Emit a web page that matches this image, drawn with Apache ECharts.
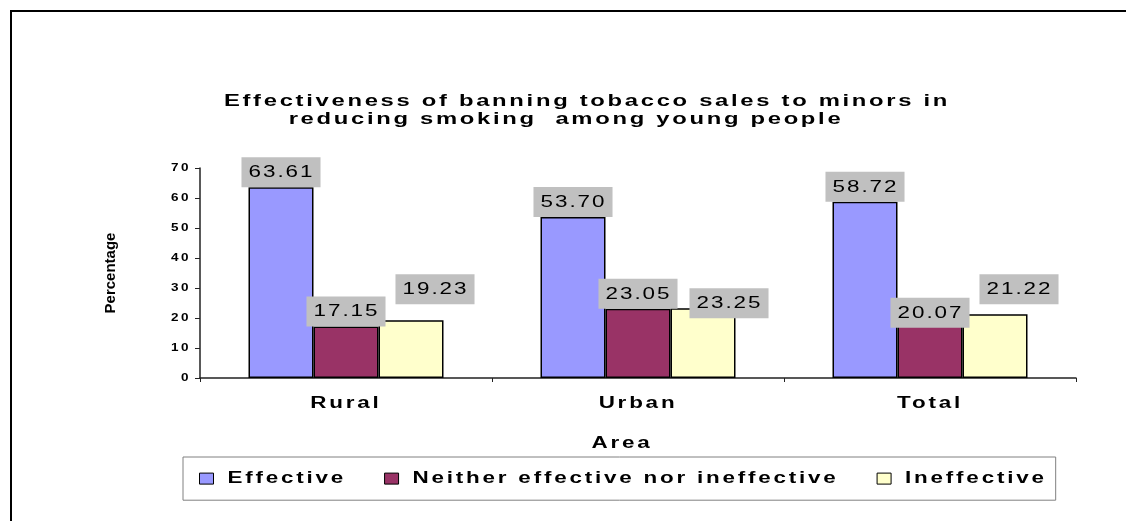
<!DOCTYPE html>
<html>
<head>
<meta charset="utf-8">
<title>Effectiveness of banning tobacco sales to minors</title>
<script src="https://cdn.jsdelivr.net/npm/echarts@6/dist/echarts.min.js"></script>
<style>
  html, body { margin: 0; padding: 0; background: #fff; }
  #chart { width: 1126px; height: 521px; }
</style>
</head>
<body>
<div id="chart"></div>
<script>
// ---- data ----
const titleLines = [
  'Effectiveness of banning tobacco sales to minors in',
  'reducing smoking  among young people'
];
const categories = ['Rural', 'Urban', 'Total'];
const seriesNames = ['Effective', 'Neither effective nor ineffective', 'Ineffective'];
const effective = [63.61, 53.70, 58.72];
const neither = [17.15, 23.05, 20.07];
const ineffective = [19.23, 23.25, 21.22];
const yTicks = { min: 0, max: 70, step: 10 };
const xAxisTitle = 'Area';
const yAxisTitle = 'Percentage';

// ---- styling ----
const FONT = 'Liberation Sans';
const colors = ['#9999FF', '#993366', '#FFFFCC'];
// wide, tracked lettering: horizontal stretch and extra spacing per font
const TEXT_LOOK = {
  b17: { sx: 1.4, track: 2.7 },
  b16: { sx: 1.4, track: 2.8 },
  r16: { sx: 1.4, track: 2.0 },
  b10: { sx: 1.35, track: 2.5 }
};
// label nudges so boxes of neighbouring bars do not collide
const labelNudge = [
  [[0, 0], [0, 0], [0, 0]],
  [[0, 0], [0, 0], [0, 10]],
  [[24, -16], [26, 10], [24, -10]]
];

(function applyTextLook() {
  const proto = CanvasRenderingContext2D.prototype;
  const hasLS = 'letterSpacing' in proto;
  const lookFor = (font) => {
    const m = /(\d+(?:\.\d+)?)px/.exec(font || '');
    if (!m) return null;
    const bold = /bold|[6-9]00/.test(font);
    return TEXT_LOOK[(bold ? 'b' : 'r') + Math.round(parseFloat(m[1]))] || null;
  };
  const wrapDraw = (orig) => function (text, x, y, maxWidth) {
    const look = lookFor(this.font);
    if (!look) {
      if (hasLS) this.letterSpacing = '0px';
      return orig.apply(this, arguments);
    }
    this.save();
    if (hasLS) this.letterSpacing = (look.track / look.sx) + 'px';
    this.translate(x, y);
    this.scale(look.sx, 1);
    const r = maxWidth === undefined
      ? orig.call(this, text, 0, 0)
      : orig.call(this, text, 0, 0, maxWidth / look.sx);
    this.restore();
    return r;
  };
  proto.fillText = wrapDraw(proto.fillText);
  proto.strokeText = wrapDraw(proto.strokeText);
  const origMeasure = proto.measureText;
  proto.measureText = function (text) {
    const look = lookFor(this.font);
    if (hasLS) this.letterSpacing = look ? (look.track / look.sx) + 'px' : '0px';
    const m = origMeasure.call(this, text);
    if (hasLS) this.letterSpacing = '0px';
    if (!look) return m;
    return {
      width: m.width * look.sx,
      actualBoundingBoxLeft: m.actualBoundingBoxLeft * look.sx,
      actualBoundingBoxRight: m.actualBoundingBoxRight * look.sx,
      actualBoundingBoxAscent: m.actualBoundingBoxAscent,
      actualBoundingBoxDescent: m.actualBoundingBoxDescent,
      fontBoundingBoxAscent: m.fontBoundingBoxAscent,
      fontBoundingBoxDescent: m.fontBoundingBoxDescent
    };
  };
})();

const valueSets = [effective, neither, ineffective];

const series = valueSets.map((vals, s) => ({
  name: seriesNames[s],
  type: 'bar',
  barWidth: 65,
  barGap: '0%',
  itemStyle: { color: colors[s], borderColor: '#000', borderWidth: 1.5 },
  label: {
    show: true,
    position: 'top',
    distance: 0,
    formatter: (p) => p.value.toFixed(2),
    fontFamily: FONT,
    fontSize: 16,
    lineHeight: 19,
    color: '#000',
    backgroundColor: '#C0C0C0',
    padding: [6, 6, 5, 7]
  },
  data: vals.map((v, i) => ({ value: v, label: { offset: labelNudge[s][i] } }))
}));

const chart = echarts.init(document.getElementById('chart'), null, { renderer: 'canvas' });

const titleStyle = { fontFamily: FONT, fontSize: 17, fontWeight: 'bold', color: '#000' };

chart.setOption({
  backgroundColor: '#fff',
  animation: false,
  textStyle: { fontFamily: FONT, color: '#000' },
  title: [
    { text: titleLines[0], left: 587, top: 88, padding: 0, textAlign: 'center', textStyle: titleStyle },
    { text: titleLines[1], left: 566, top: 106, padding: 0, textAlign: 'center', textStyle: titleStyle }
  ],
  graphic: [{
    type: 'rect',
    shape: { x: 11, y: 11, width: 1300, height: 700 },
    style: { fill: 'none', stroke: '#000', lineWidth: 2 },
    silent: true
  }],
  legend: {
    left: 183,
    top: 457,
    orient: 'horizontal',
    padding: [9, 9, 9, 16],
    borderColor: '#808080',
    borderWidth: 1,
    itemWidth: 14,
    itemHeight: 11,
    itemGap: 38,
    icon: 'rect',
    itemStyle: { borderWidth: 1, borderColor: '#000' },
    textStyle: {
      fontFamily: FONT, fontSize: 16, fontWeight: 'bold', color: '#000',
      padding: [0, 0, 0, 9]
    }
  },
  grid: { left: 200, right: 50, top: 168, bottom: 143, containLabel: false },
  xAxis: {
    type: 'category',
    data: categories,
    name: xAxisTitle,
    nameLocation: 'middle',
    nameGap: 53,
    nameTextStyle: { fontFamily: FONT, fontSize: 16, fontWeight: 'bold', color: '#000', padding: [0, 32, 0, 0] },
    axisLine: { lineStyle: { color: '#222', width: 1.5 } },
    axisTick: { show: true, length: 4, inside: false, lineStyle: { color: '#222' } },
    axisLabel: { margin: 13, fontFamily: FONT, fontSize: 16, fontWeight: 'bold', color: '#000' },
    splitLine: { show: false }
  },
  yAxis: {
    type: 'value',
    min: yTicks.min,
    max: yTicks.max,
    interval: yTicks.step,
    name: yAxisTitle,
    nameLocation: 'middle',
    nameGap: 82,
    nameTextStyle: { fontFamily: FONT, fontSize: 15, fontWeight: 'bold', color: '#000' },
    axisLine: { show: true, lineStyle: { color: '#222', width: 1.5 } },
    axisTick: { show: true, length: 5, inside: false, lineStyle: { color: '#222' } },
    axisLabel: { margin: 9, fontFamily: FONT, fontSize: 10, fontWeight: 'bold', color: '#000' },
    splitLine: { show: false }
  },
  series: series
});
</script>
</body>
</html>
